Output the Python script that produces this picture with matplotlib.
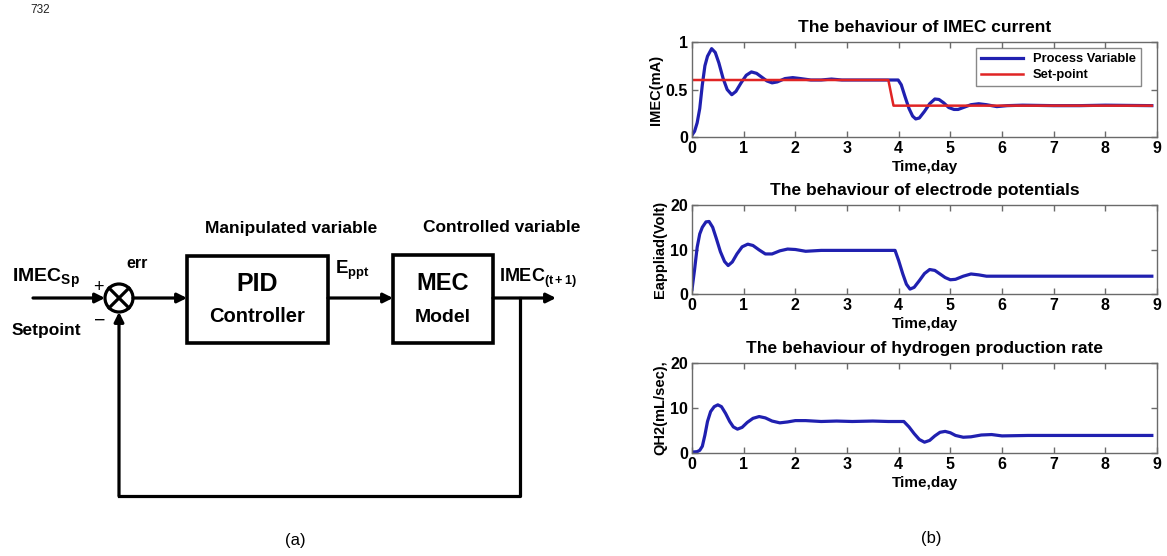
import matplotlib
matplotlib.use("Agg")
import matplotlib.pyplot as plt
from matplotlib.patches import Rectangle, Circle

plt.rcParams['font.family'] = ['Liberation Sans', 'DejaVu Sans']
plt.rcParams['mathtext.fontset'] = 'custom'
plt.rcParams['mathtext.rm'] = 'Liberation Sans'
plt.rcParams['mathtext.bf'] = 'Liberation Sans:bold'
plt.rcParams['mathtext.it'] = 'Liberation Sans:italic'

# ---------------- data ----------------
t_imec = [0, 0.05, 0.1, 0.15, 0.2, 0.25, 0.3, 0.38, 0.45, 0.52, 0.6, 0.68, 0.77, 0.85, 0.95,
          1.05, 1.15, 1.25, 1.35, 1.45, 1.55, 1.65, 1.8, 1.95, 2.1, 2.3, 2.5, 2.7, 2.9, 3.1,
          3.3, 3.5, 3.7, 3.85, 3.99, 4.05, 4.12, 4.2, 4.27, 4.33, 4.4, 4.5, 4.6, 4.7, 4.78,
          4.87, 4.97, 5.07, 5.15, 5.25, 5.4, 5.55, 5.7, 5.9, 6.1, 6.4, 7.0, 7.5, 8.0, 8.9]
imec_pv = [0.02, 0.06, 0.15, 0.3, 0.55, 0.75, 0.85, 0.93, 0.89, 0.78, 0.62, 0.5, 0.445, 0.48, 0.57,
           0.65, 0.685, 0.67, 0.63, 0.59, 0.57, 0.58, 0.615, 0.625, 0.615, 0.6, 0.6, 0.61, 0.6, 0.6,
           0.6, 0.6, 0.6, 0.6, 0.6, 0.55, 0.43, 0.3, 0.22, 0.19, 0.2, 0.27, 0.35, 0.4, 0.395,
           0.36, 0.31, 0.29, 0.29, 0.31, 0.34, 0.35, 0.34, 0.32, 0.33, 0.335, 0.33, 0.33, 0.335, 0.33]
t_sp = [0, 3.8, 3.9, 8.9]
imec_sp = [0.6, 0.6, 0.33, 0.33]

t_e = [0, 0.05, 0.1, 0.15, 0.2, 0.27, 0.33, 0.4, 0.47, 0.55, 0.63, 0.7, 0.78, 0.87, 0.97,
       1.08, 1.18, 1.3, 1.42, 1.55, 1.7, 1.85, 2.0, 2.2, 2.5, 2.8, 3.1, 3.5, 3.93, 4.0,
       4.08, 4.15, 4.22, 4.3, 4.4, 4.5, 4.6, 4.7, 4.8, 4.9, 5.0, 5.1, 5.25, 5.4, 5.55,
       5.7, 5.9, 6.5, 7.0, 8.0, 8.9]
e_app = [1.0, 5.5, 10.5, 13.5, 15.0, 16.2, 16.3, 15.0, 12.5, 9.5, 7.3, 6.4, 7.2, 9.0, 10.6,
         11.2, 10.9, 9.9, 9.0, 9.0, 9.7, 10.1, 10.0, 9.6, 9.8, 9.8, 9.8, 9.8, 9.8, 7.5,
         4.5, 2.2, 1.1, 1.5, 3.0, 4.6, 5.5, 5.3, 4.5, 3.7, 3.2, 3.3, 4.0, 4.5, 4.3,
         4.0, 4.0, 4.0, 4.0, 4.0, 4.0]

t_q = [0, 0.1, 0.15, 0.2, 0.25, 0.3, 0.36, 0.43, 0.5, 0.57, 0.65, 0.73, 0.8, 0.88, 0.97,
       1.07, 1.18, 1.3, 1.42, 1.55, 1.7, 1.85, 2.0, 2.2, 2.5, 2.8, 3.1, 3.5, 3.8, 4.1,
       4.2, 4.3, 4.4, 4.5, 4.6, 4.7, 4.8, 4.9, 5.0, 5.1, 5.25, 5.4, 5.6, 5.8, 6.0, 6.5,
       7.0, 8.0, 8.9]
qh2 = [0.2, 0.3, 0.6, 1.5, 4.0, 7.0, 9.2, 10.3, 10.7, 10.3, 8.8, 7.0, 5.8, 5.3, 5.7,
       6.8, 7.7, 8.1, 7.8, 7.1, 6.7, 6.9, 7.2, 7.2, 7.0, 7.1, 7.0, 7.1, 7.0, 7.0,
       5.8, 4.3, 3.0, 2.4, 2.8, 3.8, 4.6, 4.8, 4.5, 3.9, 3.5, 3.6, 4.0, 4.1, 3.8, 3.9,
       3.9, 3.9, 3.9]

x_ticks = [0, 1, 2, 3, 4, 5, 6, 7, 8, 9]
titles = ["The behaviour of IMEC current",
          "The behaviour of electrode potentials",
          "The behaviour of hydrogen production rate"]
ylabels = ["IMEC(mA)", "Eappliad(Volt)", "QH2(mL/sec),"]
xlabel = "Time,day"
legend_labels = ["Process Variable", "Set-point"]

W, H = 1167, 556
fig = plt.figure(figsize=(W / 100, H / 100), dpi=100)

# ---------------- block diagram (pixel-coordinate overlay) ----------------
ax0 = fig.add_axes([0, 0, 1, 1])
ax0.set_xlim(0, W)
ax0.set_ylim(H, 0)
ax0.axis('off')
ax0.patch.set_visible(False)

lw_box = 2.6
lw_ln = 2.3
ay = 298
cx, cy, r = 119, 298, 14

def arrow(x0, y0, x1, y1):
    ax0.annotate('', xy=(x1, y1), xytext=(x0, y0),
                 arrowprops=dict(arrowstyle='-|>', lw=lw_ln, color='k',
                                 mutation_scale=14, shrinkA=0, shrinkB=0))

def line(xs, ys):
    ax0.plot(xs, ys, color='k', lw=lw_ln, solid_capstyle='projecting')

arrow(33, ay, cx - r, ay)
ax0.add_patch(Circle((cx, cy), r, fill=False, lw=lw_ln, ec='k'))
d = r * 0.707
line([cx - d, cx + d], [cy - d, cy + d])
line([cx - d, cx + d], [cy + d, cy - d])
arrow(cx + r, ay, 187, ay)
ax0.add_patch(Rectangle((187, 256), 141, 87, fill=False, lw=lw_box, ec='k'))
arrow(328, ay, 393, ay)
ax0.add_patch(Rectangle((393, 255), 100, 88, fill=False, lw=lw_box, ec='k'))
arrow(493, ay, 556, ay)
line([520, 520, cx], [ay, 496, 496])
arrow(cx, 496, cx, cy + r)

ax0.text(12, 278, r'$\mathbf{IMEC_{Sp}}$', fontsize=14, va='center', ha='left')
ax0.text(137, 264, 'err', fontsize=11.5, fontweight='bold', va='center', ha='center')
ax0.text(98, 287, '+', fontsize=13, va='center', ha='center')
ax0.text(12, 331, 'Setpoint', fontsize=12.5, fontweight='bold', va='center', ha='left')
ax0.text(100, 321, '\u2212', fontsize=14, va='center', ha='center')
ax0.text(205, 228, 'Manipulated variable', fontsize=12.5, fontweight='bold', va='center', ha='left')
ax0.text(423, 228, 'Controlled variable', fontsize=12.5, fontweight='bold', va='center', ha='left')
ax0.text(257, 284, 'PID', fontsize=18, fontweight='bold', va='center', ha='center')
ax0.text(257, 317, 'Controller', fontsize=14.5, fontweight='bold', va='center', ha='center')
ax0.text(443, 283, 'MEC', fontsize=17, fontweight='bold', va='center', ha='center')
ax0.text(443, 317, 'Model', fontsize=14, fontweight='bold', va='center', ha='center')
ax0.text(335, 270, r'$\mathbf{E_{ppt}}$', fontsize=13.5, va='center', ha='left')
ax0.text(499, 278, r'$\mathbf{IMEC_{(t+1)}}$', fontsize=13, va='center', ha='left')
ax0.text(30, 10, '732', fontsize=8.5, va='center', ha='left', color='#222222')
ax0.text(295, 541, '(a)', fontsize=12, va='center', ha='center')
ax0.text(931, 539, '(b)', fontsize=12, va='center', ha='center')

# ---------------- simulation plots ----------------
blue = '#2020b0'
red = '#e02424'
frame_c = '#6a6a6a'

def px_axes(left, top, right, bottom):
    return fig.add_axes([left / W, 1 - bottom / H, (right - left) / W, (bottom - top) / H])

def style(ax, yticks, ylabels_txt, title, ylabel):
    ax.set_xlim(0, 9)
    ax.set_xticks(x_ticks)
    ax.set_yticks(yticks)
    ax.set_yticklabels(ylabels_txt)
    ax.set_ylim(yticks[0], yticks[-1])
    ax.tick_params(direction='in', top=True, right=True, length=4, width=1,
                   color=frame_c, labelsize=11.5, pad=3)
    for lab in ax.get_xticklabels() + ax.get_yticklabels():
        lab.set_fontweight('bold')
    for sp in ax.spines.values():
        sp.set_color(frame_c)
        sp.set_linewidth(1.0)
    ax.set_title(title, fontsize=12.5, fontweight='bold', pad=7)
    ax.set_xlabel(xlabel, fontsize=11, fontweight='bold', labelpad=3)
    ax.set_ylabel(ylabel, fontsize=10.5, fontweight='bold', labelpad=2)

ax1 = px_axes(692, 42, 1157, 137)
ax1.plot(t_imec, imec_pv, color=blue, lw=2.3, label=legend_labels[0])
ax1.plot(t_sp, imec_sp, color=red, lw=1.8, label=legend_labels[1])
style(ax1, [0, 0.5, 1], ['0', '0.5', '1'], titles[0], ylabels[0])
leg = ax1.legend(loc='upper right', bbox_to_anchor=(0.9656, 0.937),
                 prop={'weight': 'bold', 'size': 9.3}, frameon=True,
                 fancybox=False, edgecolor=frame_c, handlelength=3.2, borderaxespad=0,
                 labelspacing=0.3, borderpad=0.4)
leg.get_frame().set_linewidth(1.0)

ax2 = px_axes(692, 205, 1157, 294)
ax2.plot(t_e, e_app, color=blue, lw=2.3)
style(ax2, [0, 10, 20], ['0', '10', '20'], titles[1], ylabels[1])

ax3 = px_axes(692, 363, 1157, 453)
ax3.plot(t_q, qh2, color=blue, lw=2.3)
style(ax3, [0, 10, 20], ['0', '10', '20'], titles[2], ylabels[2])

fig.savefig('out.png', dpi=100)
